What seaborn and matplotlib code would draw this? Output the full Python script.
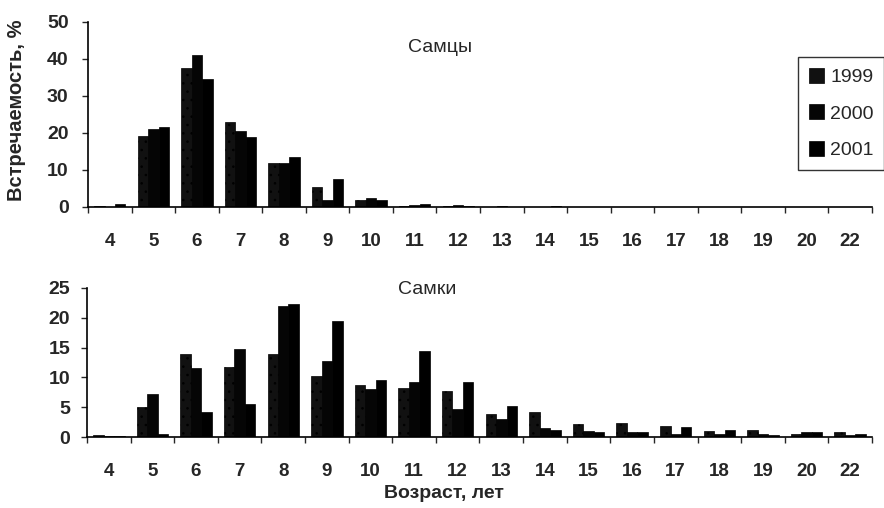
import matplotlib
matplotlib.use("Agg")
import matplotlib.pyplot as plt
import seaborn as sns
import pandas as pd
import numpy as np

ages = ["4", "5", "6", "7", "8", "9", "10", "11", "12", "13", "14", "15", "16", "17", "18", "19", "20", "22"]
years = ["1999", "2000", "2001"]

males_1999 = [0.3, 19.3, 37.5, 23.0, 12.0, 5.5, 2.0, 0.3, 0.3, 0.1, 0.1, 0.1, 0.1, 0.0, 0.0, 0.0, 0.0, 0.0]
males_2000 = [0.1, 21.0, 41.0, 20.5, 12.0, 2.0, 2.5, 0.5, 0.5, 0.2, 0.1, 0.1, 0.0, 0.1, 0.0, 0.0, 0.0, 0.0]
males_2001 = [0.8, 21.5, 34.5, 19.0, 13.5, 7.5, 2.0, 0.8, 0.3, 0.1, 0.2, 0.1, 0.1, 0.0, 0.0, 0.1, 0.0, 0.0]

females_1999 = [0.3, 5.0, 14.0, 11.8, 14.0, 10.2, 8.8, 8.3, 7.7, 3.8, 4.2, 2.2, 2.3, 1.8, 1.0, 1.2, 0.5, 0.8]
females_2000 = [0.1, 7.2, 11.5, 14.7, 22.0, 12.8, 8.0, 9.3, 4.7, 3.0, 1.5, 1.0, 0.8, 0.5, 0.5, 0.5, 0.8, 0.3]
females_2001 = [0.1, 0.5, 4.2, 5.5, 22.3, 19.5, 9.5, 14.5, 9.3, 5.2, 1.2, 0.8, 0.8, 1.7, 1.2, 0.3, 0.8, 0.5]

title_m = "Самцы"
title_f = "Самки"
ylabel = "Встречаемость, %"
xlabel = "Возраст, лет"


def long_df(s1, s2, s3):
    rows = []
    for y, s in zip(years, (s1, s2, s3)):
        for a, v in zip(ages, s):
            rows.append({"age": a, "year": y, "value": v})
    return pd.DataFrame(rows)


df_m = long_df(males_1999, males_2000, males_2001)
df_f = long_df(females_1999, females_2000, females_2001)

sns.set_style("white")
plt.rcParams["font.family"] = ["Liberation Sans", "DejaVu Sans"]
plt.rcParams["hatch.color"] = "white"
plt.rcParams["hatch.linewidth"] = 0.6

W, H = 884, 508
fig = plt.figure(figsize=(W / 100, H / 100), dpi=100)


def px_axes(left, top, right, bottom):
    return fig.add_axes([left / W, 1 - bottom / H, (right - left) / W, (bottom - top) / H])


palette = {"1999": "#111111", "2000": "#050505", "2001": "#000000"}
FS = 14

ax1 = px_axes(88, 22, 872, 207)
ax2 = px_axes(87, 288, 872, 437)

for ax, df, ymax, step, pad_y in ((ax1, df_m, 50, 10, 10), (ax2, df_f, 25, 5, 8)):
    sns.barplot(data=df, x="age", y="value", hue="year", hue_order=years,
                palette=palette, width=0.72, saturation=1, edgecolor="black",
                linewidth=0.5, ax=ax, legend=(ax is ax1))
    for p in ax.containers[0]:
        p.set_hatch("..")
    ax.set_xlim(-0.5, len(ages) - 0.5)
    ax.set_ylim(0, ymax)
    ax.set_yticks(np.arange(0, ymax + 1, step))
    ax.set_xlabel("")
    ax.set_ylabel("")
    ax.set_xticks(np.arange(len(ages)))
    ax.set_xticklabels(ages)
    ax.set_xticks(np.arange(-0.5, len(ages)), minor=True)
    ax.tick_params(axis="x", which="major", length=0, pad=19, labelsize=FS - 0.5)
    ax.tick_params(axis="x", which="minor", length=4, width=1, direction="out", bottom=True)
    ax.tick_params(axis="y", which="major", length=4, width=1, direction="out", left=True,
                   pad=pad_y, labelsize=FS)
    for lab in ax.get_xticklabels() + ax.get_yticklabels():
        lab.set_fontweight("bold")
    sns.despine(ax=ax)
    for s in ("left", "bottom"):
        ax.spines[s].set_color("black")
        ax.spines[s].set_linewidth(1.2)

leg = ax1.legend(loc="upper left", bbox_to_anchor=((798 - 88) / (872 - 88), (22 - 57) / 185 + 1),
                 frameon=True, fancybox=False, fontsize=FS, handlelength=0.8, handleheight=0.8,
                 handletextpad=0.3, labelspacing=0.95, borderpad=0.55, borderaxespad=0)
leg.get_frame().set_edgecolor("black")
leg.get_frame().set_linewidth(1.0)

fig.text(440 / W, 1 - 47 / H, title_m, ha="center", va="center", fontsize=FS)
fig.text(427 / W, 1 - 289 / H, title_f, ha="center", va="center", fontsize=FS)
fig.text(17 / W, 1 - 110 / H, ylabel, ha="center", va="center", rotation=90,
         fontsize=FS + 0.5, fontweight="bold")
fig.text(444 / W, 1 - 494 / H, xlabel, ha="center", va="center", fontsize=FS, fontweight="bold")

fig.savefig("out.png", dpi=100)
